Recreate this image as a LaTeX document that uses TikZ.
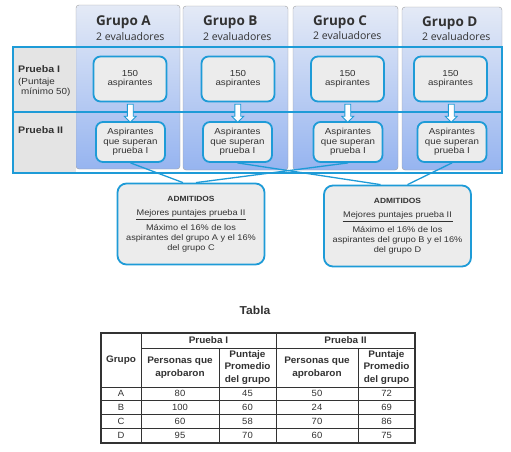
\documentclass[tikz,border=0pt]{standalone}
\usepackage{fontspec}
\setmainfont{Liberation Sans}
\newfontfamily\headfont{Open Sans}
\newfontfamily\widefont[FakeStretch=1.12]{Liberation Sans}
\newfontfamily\tabfont[FakeStretch=1.05]{Liberation Sans}
\usepackage{xcolor}
\usepackage{tikz}
\usetikzlibrary{shapes, arrows, calc}

\definecolor{lineablue}{RGB}{30,155,215}
\definecolor{cajagris}{RGB}{236,236,236}
\definecolor{paneltop}{RGB}{228,234,246}
\definecolor{panelbot}{RGB}{150,180,240}
\definecolor{rotulogris}{RGB}{228,228,228}
\definecolor{textogris}{RGB}{50,50,50}

\tikzset{
	panel/.style={draw=gray!75, rounded corners=3pt, top color=paneltop, bottom color=panelbot},
	franja/.style={draw=lineablue, line width=1.3pt},
	grupo/.style={anchor=base west, inner sep=0pt, text=textogris, font=\headfont\bfseries\fontsize{13.5}{15}\selectfont},
	evaluad/.style={anchor=base west, inner sep=0pt, text=textogris, font=\headfont\fontsize{10.5}{12}\selectfont},
	rotulo/.style={anchor=base west, inner sep=0pt, text=textogris, font=\widefont\fontsize{8.8}{10}\selectfont},
	caja/.style={draw=lineablue, line width=1.8pt, fill=cajagris, rounded corners=7pt, align=center, inner sep=1pt, text=textogris, font=\widefont\fontsize{8.7}{9.5}\selectfont},
	flecha/.style={single arrow, draw=lineablue, fill=white, line width=0.8pt, shape border rotate=270, minimum height=18pt, minimum width=11pt, single arrow head extend=3pt, inner sep=2.5pt},
	enlace/.style={draw=lineablue, line width=1.3pt},
	admit/.style={draw=lineablue, line width=1.8pt, fill=cajagris, rounded corners=9pt, minimum width=147pt, minimum height=81pt, align=center, inner sep=2pt, text=textogris, font=\widefont\fontsize{8.2}{10}\selectfont},
	celdahead/.style={align=center, inner sep=0pt, text=textogris, font=\tabfont\bfseries\fontsize{9.5}{12.5}\selectfont},
	celda/.style={inner sep=0pt, text=textogris, font=\tabfont\fontsize{9}{10}\selectfont}
}

\begin{document}
\begin{tikzpicture}[x=1pt, y=-1pt]
		\useasboundingbox (0,0) rectangle (511,451);
		\path[panel] (76,5) rectangle (180,169);
		\path[panel] (183,6) rectangle (288,170);
		\path[panel] (293,6) rectangle (398,170);
		\path[panel] (402,7) rectangle (502,170);
		\fill[rotulogris] (13,47) rectangle (76,173);
		\draw[franja] (13,47) rectangle (502,112);
		\draw[franja] (13,112) rectangle (502,173);

		\node[grupo] (ga) at (96,25) {Grupo A};
		\node[grupo] (gb) at (203,25) {Grupo B};
		\node[grupo] (gc) at (313,25) {Grupo C};
		\node[grupo] (gd) at (422,26) {Grupo D};
		\node[evaluad] (ea) at (96,40) {2 evaluadores};
		\node[evaluad] (eb) at (203,40) {2 evaluadores};
		\node[evaluad] (ec) at (313,39) {2 evaluadores};
		\node[evaluad] (ed) at (422,40) {2 evaluadores};

		\node[rotulo, font=\widefont\bfseries\fontsize{9.5}{10}\selectfont] (p1) at (18,72) {Prueba I};
		\node[rotulo] (p1b) at (18,84) {(Puntaje};
		\node[rotulo] (p1c) at (21,94) {mínimo 50)};
		\node[rotulo, font=\widefont\bfseries\fontsize{9.5}{10}\selectfont] (p2) at (18,133) {Prueba II};

		\node[caja, minimum width=73pt, minimum height=45pt] (a1) at (130,79) {150\\aspirantes};
		\node[caja, minimum width=73pt, minimum height=45pt] (b1) at (238,79) {150\\aspirantes};
		\node[caja, minimum width=73pt, minimum height=45pt] (c1) at (347.5,79) {150\\aspirantes};
		\node[caja, minimum width=73pt, minimum height=45pt] (d1) at (450.5,79) {150\\aspirantes};
		\node[caja, minimum width=69pt, minimum height=40pt] (a2) at (130.5,142) {Aspirantes\\que superan\\prueba I};
		\node[caja, minimum width=69pt, minimum height=40pt] (b2) at (237.5,142) {Aspirantes\\que superan\\prueba I};
		\node[caja, minimum width=69pt, minimum height=40pt] (c2) at (348,142) {Aspirantes\\que superan\\prueba I};
		\node[caja, minimum width=69pt, minimum height=40pt] (d2) at (452,142) {Aspirantes\\que superan\\prueba I};

		\node[flecha] (fa) at ($(a1.south)!0.5!(a2.north)$) {};
		\node[flecha] (fb) at ($(b1.south)!0.5!(b2.north)$) {};
		\node[flecha] (fc) at ($(c1.south)!0.5!(c2.north)$) {};
		\node[flecha] (fd) at ($(d1.south)!0.5!(d2.north)$) {};

		\node[admit] (iz) at (191,224) {{\bfseries\fontsize{7.5}{10}\selectfont ADMITIDOS}\\[4pt]Mejores puntajes prueba II\\[-6pt]\rule{110pt}{0.5pt}\\[1pt]Máximo el 16\% de los\\aspirantes del grupo A y el 16\%\\del grupo C};
		\node[admit] (de) at (397.5,226) {{\bfseries\fontsize{7.5}{10}\selectfont ADMITIDOS}\\[4pt]Mejores puntajes prueba II\\[-6pt]\rule{110pt}{0.5pt}\\[1pt]Máximo el 16\% de los\\aspirantes del grupo B y el 16\%\\del grupo D};

		\draw[enlace] (a2.south) -- ([xshift=-8pt]iz.north);
		\draw[enlace] (c2.south) -- ([xshift=5pt]iz.north);
		\draw[enlace] (b2.south) -- ([xshift=-17pt]de.north);
		\draw[enlace] (d2.south) -- ([xshift=10pt]de.north);

		\node[text=textogris, font=\tabfont\bfseries\fontsize{11.5}{13}\selectfont] (titulo) at (255,310) {Tabla};
		\draw[line width=1.2pt, black!80] (101,333) rectangle (415,443);
		\draw[line width=0.8pt, black!80] (141,333) -- (141,443);
		\draw[line width=0.8pt, black!80] (276,333) -- (276,443);
		\draw[line width=0.8pt, black!80] (219,348) -- (219,443);
		\draw[line width=0.8pt, black!80] (358,348) -- (358,443);
		\draw[line width=0.8pt, black!80] (141,348) -- (415,348);
		\draw[line width=0.8pt, black!80] (101,387) -- (415,387);
		\draw[line width=0.8pt, black!80] (101,400.5) -- (415,400.5);
		\draw[line width=0.8pt, black!80] (101,414) -- (415,414);
		\draw[line width=0.8pt, black!80] (101,428) -- (415,428);

		\node[celdahead] (hgrupo) at (121,360) {Grupo};
		\node[celdahead] (hp1) at (208.5,340.5) {Prueba I};
		\node[celdahead] (hp2) at (345.5,340.5) {Prueba II};
		\node[celdahead] (hp1a) at (180,367.5) {Personas que\\aprobaron};
		\node[celdahead] (hp1b) at (247.5,367.5) {Puntaje\\Promedio\\del grupo};
		\node[celdahead] (hp2a) at (317,367.5) {Personas que\\aprobaron};
		\node[celdahead] (hp2b) at (386.5,367.5) {Puntaje\\Promedio\\del grupo};

		\node[celda] (ra) at (121,393.75) {A};
		\node[celda] (ra1) at (180,393.75) {80};
		\node[celda] (ra2) at (247.5,393.75) {45};
		\node[celda] (ra3) at (317,393.75) {50};
		\node[celda] (ra4) at (386.5,393.75) {72};
		\node[celda] (rb) at (121,407.25) {B};
		\node[celda] (rb1) at (180,407.25) {100};
		\node[celda] (rb2) at (247.5,407.25) {60};
		\node[celda] (rb3) at (317,407.25) {24};
		\node[celda] (rb4) at (386.5,407.25) {69};
		\node[celda] (rc) at (121,421) {C};
		\node[celda] (rc1) at (180,421) {60};
		\node[celda] (rc2) at (247.5,421) {58};
		\node[celda] (rc3) at (317,421) {70};
		\node[celda] (rc4) at (386.5,421) {86};
		\node[celda] (rd) at (121,435.5) {D};
		\node[celda] (rd1) at (180,435.5) {95};
		\node[celda] (rd2) at (247.5,435.5) {70};
		\node[celda] (rd3) at (317,435.5) {60};
		\node[celda] (rd4) at (386.5,435.5) {75};
		\end{tikzpicture}
\end{document}
